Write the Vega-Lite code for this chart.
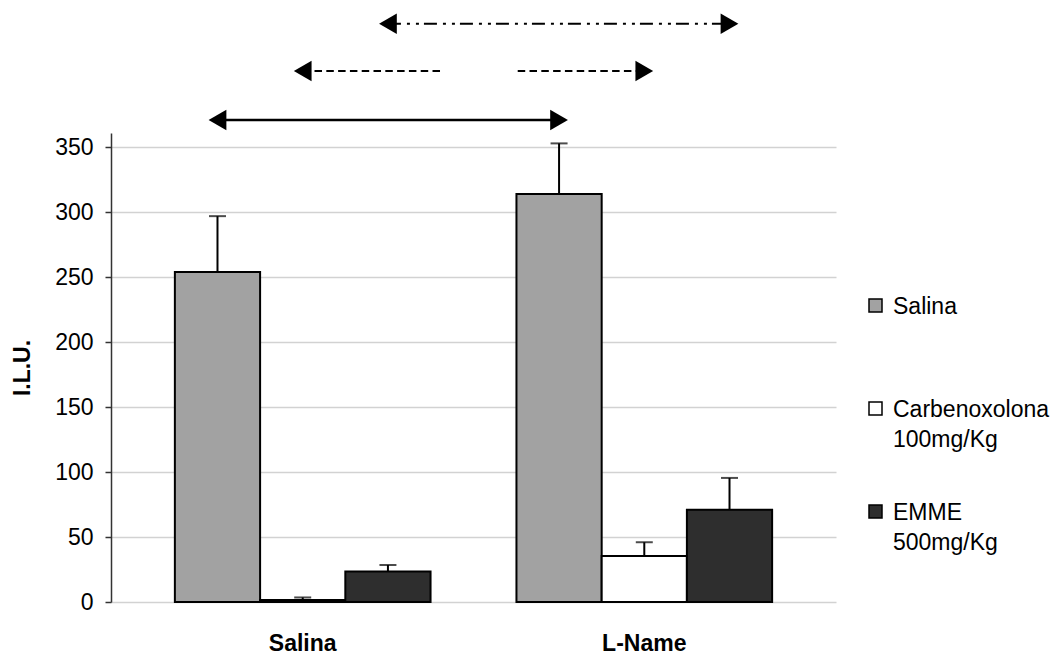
{
  "$schema": "https://vega.github.io/schema/vega-lite/v6.json",
  "width": 725,
  "height": 469,
  "autosize": {"type": "none"},
  "padding": {"left": 111, "top": 133, "right": 225, "bottom": 55},
  "background": "white",
  "config": {
    "font": "Liberation Sans",
    "view": {"stroke": null}
  },
  "datasets": {
    "bars": [
      {"group": "Salina", "treatment": "Salina", "value": 254, "upper": 297},
      {"group": "Salina", "treatment": "Carbenoxolona 100mg/Kg", "value": 1.5, "upper": 3.5},
      {"group": "Salina", "treatment": "EMME 500mg/Kg", "value": 23.5, "upper": 28.5},
      {"group": "L-Name", "treatment": "Salina", "value": 314, "upper": 353},
      {"group": "L-Name", "treatment": "Carbenoxolona 100mg/Kg", "value": 35.5, "upper": 46},
      {"group": "L-Name", "treatment": "EMME 500mg/Kg", "value": 71, "upper": 95.5}
    ],
    "arrows": [
      {"arrow": "solid", "end": 0, "group": "Salina", "treatment": "Salina", "level": 371},
      {"arrow": "solid", "end": 1, "group": "L-Name", "treatment": "Salina", "level": 371},
      {"arrow": "dashed", "end": 0, "group": "Salina", "treatment": "Carbenoxolona 100mg/Kg", "level": 408.7},
      {"arrow": "dashed", "end": 1, "group": "L-Name", "treatment": "Carbenoxolona 100mg/Kg", "level": 408.7},
      {"arrow": "dashdot", "end": 0, "group": "Salina", "treatment": "EMME 500mg/Kg", "level": 445},
      {"arrow": "dashdot", "end": 1, "group": "L-Name", "treatment": "EMME 500mg/Kg", "level": 445}
    ]
  },
  "layer": [
    {
      "data": {"name": "bars"},
      "mark": {"type": "bar", "stroke": "black", "strokeWidth": 2},
      "encoding": {
        "x": {
          "field": "group", "type": "nominal", "sort": null, "title": null,
          "scale": {"domain": ["Salina", "L-Name"], "paddingInner": 0.2515, "paddingOuter": 0.187},
          "axis": {"labelAngle": 0, "labelFontSize": 23, "labelFontWeight": "bold", "labelColor": "black", "ticks": false, "domain": false, "grid": false, "labelPadding": 30}
        },
        "xOffset": {
          "field": "treatment", "type": "nominal", "sort": null,
          "scale": {"domain": ["Salina", "Carbenoxolona 100mg/Kg", "EMME 500mg/Kg"], "paddingInner": 0, "paddingOuter": 0}
        },
        "y": {
          "field": "value", "type": "quantitative", "title": "I.L.U.",
          "scale": {"domain": [0, 361], "nice": false},
          "axis": {"values": [0, 50, 100, 150, 200, 250, 300, 350], "titleFontWeight": "bold", "titleFontSize": 23, "titleColor": "black", "titlePadding": 20, "labelFontSize": 23, "labelColor": "black", "labelPadding": 12, "tickSize": 6, "tickColor": "#333333", "tickWidth": 1.5, "domainColor": "#333333", "domainWidth": 1.5, "grid": true, "gridColor": "#d2d2d2", "gridWidth": 1.5}
        },
        "color": {
          "field": "treatment", "type": "nominal", "sort": null,
          "scale": {"domain": ["Salina", "Carbenoxolona 100mg/Kg", "EMME 500mg/Kg"], "range": ["#a2a2a2", "#ffffff", "#2e2e2e"]},
          "legend": {
            "title": null, "orient": "none", "legendX": 753, "legendY": 161,
            "symbolType": "square", "symbolSize": 169, "symbolStrokeColor": "black", "symbolStrokeWidth": 1.5,
            "labelFontSize": 23, "labelColor": "black", "labelExpr": "split(datum.label, ' ')",
            "labelBaseline": "alphabetic", "labelOffset": 6, "labelLimit": 300,
            "rowPadding": 48, "gridAlign": "all", "padding": 0,
            "encode": {"labels": {"update": {"lineHeight": {"value": 30}, "dy": {"value": 8}}}}
          }
        }
      }
    },
    {
      "data": {"name": "bars"},
      "mark": {"type": "rule", "color": "black", "strokeWidth": 2},
      "encoding": {
        "x": {"field": "group", "type": "nominal", "sort": null, "title": null},
        "xOffset": {"field": "treatment", "type": "nominal", "sort": null},
        "y": {"field": "value", "type": "quantitative"},
        "y2": {"field": "upper"}
      }
    },
    {
      "data": {"name": "bars"},
      "mark": {"type": "tick", "color": "black", "thickness": 2, "size": 17, "orient": "horizontal"},
      "encoding": {
        "x": {"field": "group", "type": "nominal", "sort": null, "title": null},
        "xOffset": {"field": "treatment", "type": "nominal", "sort": null},
        "y": {"field": "upper", "type": "quantitative"}
      }
    },
    {
      "data": {"name": "arrows"},
      "transform": [{"filter": "datum.arrow === 'solid'"}],
      "mark": {"type": "line", "color": "black", "strokeWidth": 2.5},
      "encoding": {
        "x": {"field": "group", "type": "nominal", "title": null},
        "xOffset": {"field": "treatment", "type": "nominal"},
        "y": {"field": "level", "type": "quantitative"},
        "order": {"field": "end", "type": "quantitative"}
      }
    },
    {
      "data": {"name": "arrows"},
      "transform": [{"filter": "datum.arrow === 'dashed'"}],
      "mark": {"type": "line", "color": "black", "strokeWidth": 2,
        "strokeDash": [7.5, 4.3, 7.5, 4.3, 7.5, 4.3, 7.5, 4.3, 7.5, 4.3, 7.5, 4.3, 7.5, 4.3, 7.5, 4.3, 7.5, 4.3, 7.5, 4.3, 7.5, 4.3, 7.5, 77.7, 7.5, 4.3, 7.5, 4.3, 7.5, 4.3, 7.5, 4.3, 7.5, 4.3, 7.5, 4.3, 7.5, 4.3, 7.5, 4.3, 7.5, 4.3, 7.5, 4.3, 7.5, 4.3]},
      "encoding": {
        "x": {"field": "group", "type": "nominal", "title": null},
        "xOffset": {"field": "treatment", "type": "nominal"},
        "y": {"field": "level", "type": "quantitative"},
        "order": {"field": "end", "type": "quantitative"}
      }
    },
    {
      "data": {"name": "arrows"},
      "transform": [{"filter": "datum.arrow === 'dashdot'"}],
      "mark": {"type": "line", "color": "black", "strokeWidth": 2, "strokeDash": [13, 6, 3, 6, 3, 5]},
      "encoding": {
        "x": {"field": "group", "type": "nominal", "title": null},
        "xOffset": {"field": "treatment", "type": "nominal"},
        "y": {"field": "level", "type": "quantitative"},
        "order": {"field": "end", "type": "quantitative"}
      }
    },
    {
      "data": {"name": "arrows"},
      "transform": [{"filter": "datum.end === 0"}],
      "mark": {"type": "point", "shape": "triangle-left", "filled": true, "color": "black", "size": 420, "opacity": 1},
      "encoding": {
        "x": {"field": "group", "type": "nominal", "title": null},
        "xOffset": {"field": "treatment", "type": "nominal"},
        "y": {"field": "level", "type": "quantitative"}
      }
    },
    {
      "data": {"name": "arrows"},
      "transform": [{"filter": "datum.end === 1"}],
      "mark": {"type": "point", "shape": "triangle-right", "filled": true, "color": "black", "size": 420, "opacity": 1},
      "encoding": {
        "x": {"field": "group", "type": "nominal", "title": null},
        "xOffset": {"field": "treatment", "type": "nominal"},
        "y": {"field": "level", "type": "quantitative"}
      }
    }
  ]
}
